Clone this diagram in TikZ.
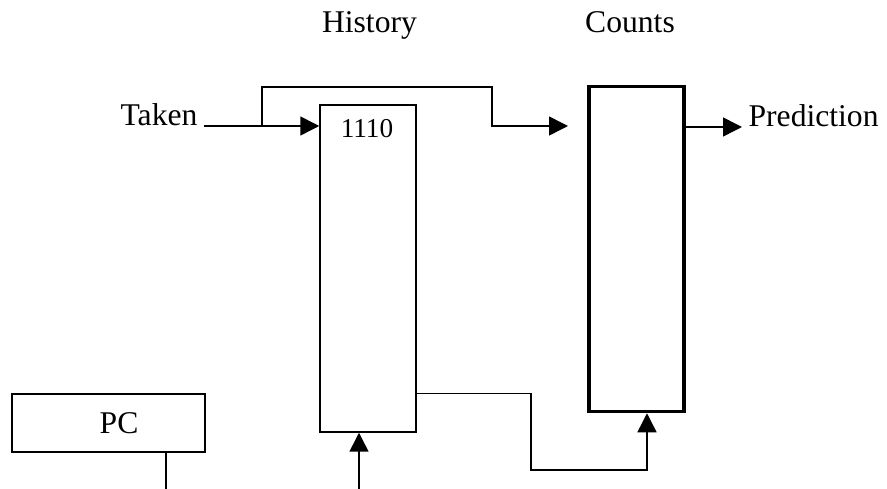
\documentclass[tikz,border=0pt]{standalone}
\usepackage{fontspec}
\setmainfont{Liberation Serif}
\usepackage{tikz}
\usetikzlibrary{arrows.meta}

\begin{document}
\begin{tikzpicture}[x=0.02cm, y=-0.02cm, line width=0.85pt,
    font=\fontsize{18}{21}\selectfont,
    >={Triangle[length=0.38cm,width=0.38cm]}]
    \def\px{0.02cm}
    \tikzset{table/.style={draw, inner sep=0pt}}
    \useasboundingbox (0,0) rectangle (887,489);
    % the two tables and the pc register
    \node[table, minimum width=96*\px, minimum height=327*\px] (hist) at (368,268.5) {};
    \node[table, line width=2pt, minimum width=95*\px, minimum height=325*\px] (counts) at (636.5,249) {};
    \node[table, minimum width=193*\px, minimum height=58*\px] (pc) at (108.5,423) {\hspace{12pt}PC};
    \node[anchor=base, font=\fontsize{15.5}{18}\selectfont] (bits) at (367,138) {1110};
    \node[anchor=base] (histlab) at (369.5,33) {History};
    \node[anchor=base] (countlab) at (630,33) {Counts};
    \node[anchor=base east] (taken) at (204,126) {Taken};
    \node[anchor=base west] (pred) at (742,127) {Prediction};
    \coordinate (split) at (262,126);
    \coordinate (jog) at (492,126);
    \coordinate (tip) at (568,126);
    \coordinate (pcout) at (166,489);
    \coordinate (idx) at (359,489);
    \coordinate (rd) at (531,470);
    \coordinate (cin) at (647,470);
    % outcome goes into the history and on to the counts
    \draw[->] (taken.base east) -- (taken.base east -| hist.west);
    \draw[->] (split) -- ++(0,-39) -| (jog) -- (tip);
    \draw[->] (counts.east |- pred.base) -- (pred.base west);
    % index paths
    \draw (pc.south -| pcout) -- (pcout);
    \draw[->] (idx) -- (idx |- hist.south);
    \draw[->] (hist.east |- pc.north) -| (rd) -- (cin) -- (cin |- counts.south);
  \end{tikzpicture}
\end{document}
